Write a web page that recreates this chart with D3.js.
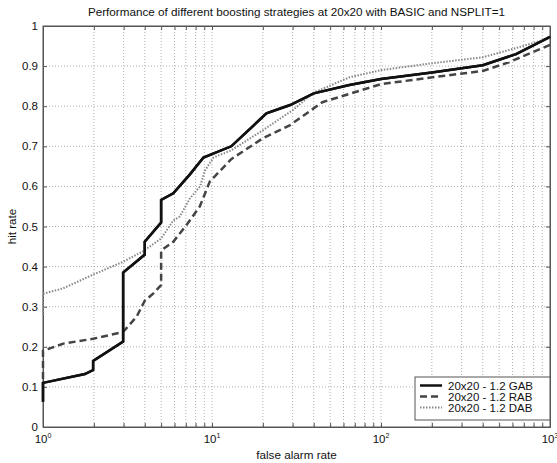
<!DOCTYPE html>
<html><head><meta charset="utf-8">
<script src="https://cdn.jsdelivr.net/npm/d3@7"></script>
<style>body{margin:0;background:#fff;} text{font-family:"Liberation Sans",Arial,sans-serif;}</style>
</head><body>
<svg id="c" width="557" height="463"></svg>
<script>
const title = "Performance of different boosting strategies at 20x20 with BASIC and NSPLIT=1";
const xLabel = "false alarm rate";
const yLabel = "hit rate";
const xTicks = [1, 10, 100, 1000];
const yTicks = [0, 0.1, 0.2, 0.3, 0.4, 0.5, 0.6, 0.7, 0.8, 0.9, 1];
const yTickLabels = ["0", "0.1", "0.2", "0.3", "0.4", "0.5", "0.6", "0.7", "0.8", "0.9", "1"];
const seriesNames = ["20x20 - 1.2 GAB", "20x20 - 1.2 RAB", "20x20 - 1.2 DAB"];
const gabX = [1, 1, 1.77, 1.98, 1.98, 2.98, 2.98, 4.0, 4.0, 5.0, 5.0, 5.9, 7.4, 8.9, 13, 21, 29, 40, 65, 100, 200, 400, 630, 1000];
const gabY = [0.063, 0.11, 0.132, 0.142, 0.165, 0.213, 0.385, 0.43, 0.462, 0.51, 0.566, 0.583, 0.63, 0.672, 0.70, 0.782, 0.803, 0.832, 0.853, 0.868, 0.884, 0.902, 0.93, 0.973];
const rabX = [1, 1, 1.32, 1.98, 2.98, 3.58, 4.0, 4.5, 5.0, 5.0, 5.9, 7.07, 8.47, 9.7, 13, 20, 29, 45, 100, 185, 400, 575, 1000];
const rabY = [0.12, 0.19, 0.208, 0.22, 0.237, 0.275, 0.315, 0.333, 0.354, 0.44, 0.462, 0.504, 0.55, 0.612, 0.668, 0.72, 0.753, 0.81, 0.855, 0.87, 0.888, 0.91, 0.953];
const dabX = [1, 1, 1.32, 1.98, 2.98, 3.9, 5.0, 5.9, 6.45, 7.4, 8.5, 9.1, 10.2, 13, 20, 30, 40, 65, 100, 200, 400, 630, 1000];
const dabY = [0.28, 0.332, 0.346, 0.38, 0.412, 0.438, 0.47, 0.515, 0.525, 0.57, 0.60, 0.64, 0.672, 0.69, 0.74, 0.79, 0.834, 0.872, 0.89, 0.907, 0.922, 0.945, 0.97];

const svg = d3.select("#c");
const L = 43, R = 550, T = 26, B = 427;
const x = d3.scaleLog().domain([1, 1000]).range([L, R]);
const y = d3.scaleLinear().domain([0, 1]).range([B, T]);

// grid
const minor = [];
for (let d = 1; d < 1000; d *= 10) for (let k = 1; k <= 9; k++) { if (d * k > 1 && d * k < 1000) minor.push(d * k); }
const g = svg.append("g");
g.selectAll(".vx").data(minor).enter().append("line")
  .attr("x1", d => x(d)).attr("x2", d => x(d)).attr("y1", T).attr("y2", B)
  .attr("stroke", "#b0b0b0").attr("stroke-width", 1).attr("stroke-dasharray", "1,2");
g.selectAll(".hy").data(yTicks.slice(1, -1)).enter().append("line")
  .attr("x1", L).attr("x2", R).attr("y1", d => y(d)).attr("y2", d => y(d))
  .attr("stroke", "#b0b0b0").attr("stroke-width", 1).attr("stroke-dasharray", "1,2");

// axes (inward ticks)
const axB = d3.axisBottom(x).tickValues(minor.concat(xTicks)).tickSize(-4).tickFormat("");
const axT = d3.axisTop(x).tickValues(minor.concat(xTicks)).tickSize(-4).tickFormat("");
const axL = d3.axisLeft(y).tickValues(yTicks).tickSize(-4).tickFormat("");
const axR = d3.axisRight(y).tickValues(yTicks).tickSize(-4).tickFormat("");
[[axB, `translate(0,${B})`], [axT, `translate(0,${T})`], [axL, `translate(${L},0)`], [axR, `translate(${R},0)`]].forEach(([a, t]) => {
  const ag = svg.append("g").attr("transform", t).call(a);
  ag.select(".domain").attr("stroke", "#555");
  ag.selectAll(".tick line").attr("stroke", "#555");
});
svg.append("rect").attr("x", L).attr("y", T).attr("width", R - L).attr("height", B - T)
  .attr("fill", "none").attr("stroke", "#555").attr("stroke-width", 1);

// tick labels
yTicks.forEach((v, i) => {
  svg.append("text").attr("x", L - 5).attr("y", y(v) + 4).attr("text-anchor", "end")
    .attr("font-size", 11.5).attr("fill", "#111").text(yTickLabels[i]);
});
xTicks.forEach(v => {
  const t = svg.append("text").attr("x", x(v)).attr("y", 443).attr("text-anchor", "middle")
    .attr("font-size", 11.5).attr("fill", "#111");
  t.append("tspan").text("10");
  t.append("tspan").attr("dy", -5).attr("font-size", 7).text(Math.round(Math.log10(v)));
});

// titles
svg.append("text").attr("x", (L + R) / 2).attr("y", 16).attr("text-anchor", "middle")
  .attr("font-size", 11.7).attr("fill", "#111").text(title);
svg.append("text").attr("x", (L + R) / 2).attr("y", 459).attr("text-anchor", "middle")
  .attr("font-size", 11.7).attr("fill", "#111").text(xLabel);
svg.append("text").attr("transform", `translate(16,${(T + B) / 2}) rotate(-90)`).attr("text-anchor", "middle")
  .attr("font-size", 11.7).attr("fill", "#111").text(yLabel);

// lines
const styles = [
  { color: "#111", width: 2.5, dash: null },
  { color: "#444", width: 2.5, dash: "7,4" },
  { color: "#888", width: 2, dash: "1.5,1.5" }
];
const series = [[gabX, gabY], [rabX, rabY], [dabX, dabY]];
const line = d3.line().x(d => x(d[0])).y(d => y(d[1]));
series.forEach(([xs, ys], i) => {
  const pts = xs.map((v, j) => [v, ys[j]]);
  const p = svg.append("path").datum(pts).attr("d", line).attr("fill", "none")
    .attr("stroke", styles[i].color).attr("stroke-width", styles[i].width);
  if (styles[i].dash) p.attr("stroke-dasharray", styles[i].dash);
});
// redraw GAB on top
{
  const pts = gabX.map((v, j) => [v, gabY[j]]);
  svg.append("path").datum(pts).attr("d", line).attr("fill", "none").attr("stroke", styles[0].color).attr("stroke-width", styles[0].width);
}

// legend
const lg = svg.append("g");
lg.append("rect").attr("x", 415).attr("y", 377).attr("width", R - 415).attr("height", 43)
  .attr("fill", "#fff").attr("stroke", "#555").attr("stroke-width", 1);
seriesNames.forEach((n, i) => {
  const yy = 385.5 + i * 11;
  const ln = lg.append("line").attr("x1", 420).attr("x2", 442).attr("y1", yy).attr("y2", yy)
    .attr("stroke", styles[i].color).attr("stroke-width", styles[i].width);
  if (styles[i].dash) ln.attr("stroke-dasharray", styles[i].dash);
  lg.append("text").attr("x", 448).attr("y", yy + 4).attr("font-size", 11.5).attr("fill", "#111").text(n);
});
</script>
</body></html>
